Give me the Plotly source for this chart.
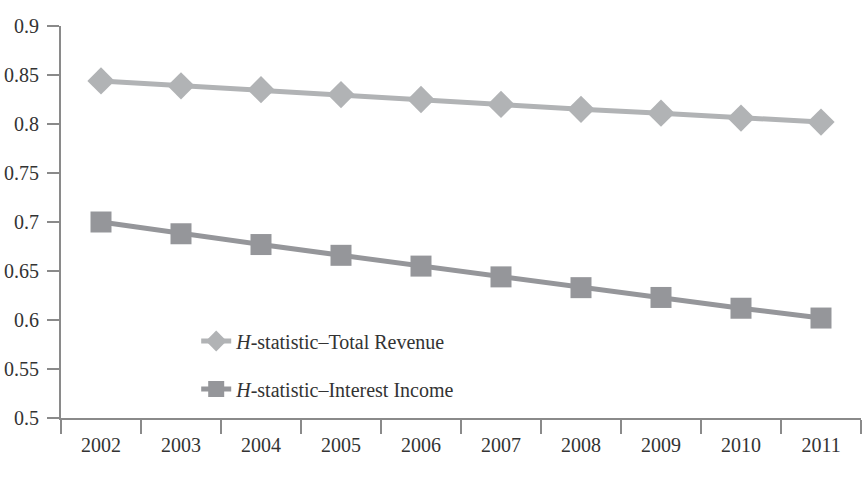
import plotly.graph_objects as go

years = ["2002", "2003", "2004", "2005", "2006", "2007", "2008", "2009", "2010", "2011"]
total_revenue = [0.844, 0.839, 0.835, 0.830, 0.825, 0.820, 0.815, 0.811, 0.806, 0.802]
interest_income = [0.700, 0.688, 0.677, 0.666, 0.655, 0.644, 0.633, 0.623, 0.612, 0.602]
y_ticks = [0.5, 0.55, 0.6, 0.65, 0.7, 0.75, 0.8, 0.85, 0.9]
y_labels = ["0.5", "0.55", "0.6", "0.65", "0.7", "0.75", "0.8", "0.85", "0.9"]

font = dict(family="Liberation Serif, Times New Roman, serif", size=20, color="#333333")

fig = go.Figure()
fig.add_trace(go.Scatter(
    x=years, y=total_revenue, mode="lines+markers",
    name="<i>H</i>-statistic–Total Revenue",
    line=dict(color="#b1b3b5", width=5),
    marker=dict(symbol="diamond", size=21, color="#b1b3b5"),
    legend="legend",
))
fig.add_trace(go.Scatter(
    x=years, y=interest_income, mode="lines+markers",
    name="<i>H</i>-statistic–Interest Income",
    line=dict(color="#95969a", width=5),
    marker=dict(symbol="square", size=21, color="#95969a"),
    legend="legend2",
))

fig.update_layout(
    width=866, height=481,
    margin=dict(l=61, r=5, t=26, b=63),
    paper_bgcolor="white", plot_bgcolor="white",
    font=font,
    showlegend=True,
    legend=dict(x=0.169, y=(418 - 341) / 392, xref="paper", yref="paper",
                xanchor="left", yanchor="middle", bgcolor="rgba(0,0,0,0)",
                font=font, itemsizing="trace"),
    legend2=dict(x=0.169, y=(418 - 389) / 392, xref="paper", yref="paper",
                 xanchor="left", yanchor="middle", bgcolor="rgba(0,0,0,0)",
                 font=font, itemsizing="trace"),
)
fig.update_xaxes(
    type="category", showgrid=False, showline=True, linecolor="#8a8a8a", linewidth=2,
    ticks="outside", tickson="boundaries", ticklen=14, tickwidth=2, tickcolor="#8a8a8a",
    tickfont=font, range=[-0.5, 9.5], ticklabelstandoff=8,
)
fig.update_yaxes(
    range=[0.5, 0.9], tickvals=y_ticks, ticktext=y_labels, showgrid=False,
    showline=True, linecolor="#8a8a8a", linewidth=2, ticks="outside", ticklen=12,
    tickwidth=2, tickcolor="#8a8a8a", tickfont=font, zeroline=False, ticklabelstandoff=4,
)

fig.write_html("out.html")
